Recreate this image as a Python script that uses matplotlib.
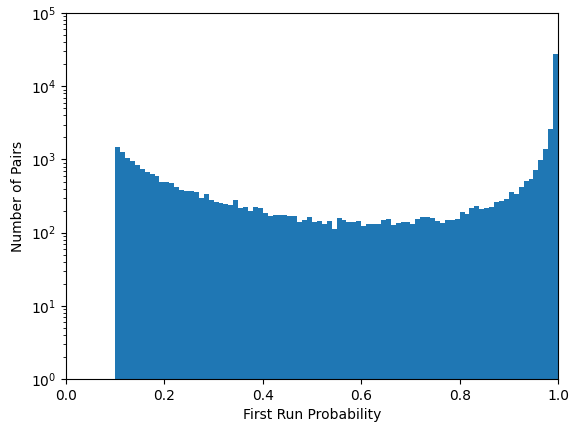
import numpy as np
import matplotlib
matplotlib.use('Agg')
import matplotlib.pyplot as plt

# counts per bin, bins of width 0.01 from 0.10 to 1.00
bin_start = 0.10
bin_stop = 1.00
counts = [
    1494, 1265, 1058, 963, 834, 749, 669, 634, 590, 489,
    489, 478, 418, 384, 372, 369, 357, 296, 339, 278,
    261, 253, 245, 238, 278, 216, 223, 197, 223, 216,
    187, 170, 175, 175, 172, 170, 170, 142, 148, 163,
    139, 144, 131, 144, 112, 158, 148, 139, 139, 144,
    123, 131, 131, 131, 148, 153, 127, 135, 139, 139,
    131, 153, 163, 163, 158, 145, 136, 148, 150, 153,
    193, 179, 216, 230, 210, 215, 222, 266, 275, 287,
    357, 334, 426, 513, 546, 728, 984, 1390, 2604, 27990,
]

edges = np.linspace(bin_start, bin_stop, len(counts) + 1)

fig = plt.figure(figsize=(5.7, 4.23), dpi=100)
ax = fig.add_axes([0.1158, 0.104, 0.8632, 0.865])

ax.hist(edges[:-1], bins=edges, weights=counts, color='#1f77b4')
ax.set_yscale('log')
ax.set_xlim(0, 1)
ax.set_ylim(1, 1e5)
ax.set_xlabel('First Run Probability')
ax.set_ylabel('Number of Pairs')

fig.savefig('out.png', dpi=100)
